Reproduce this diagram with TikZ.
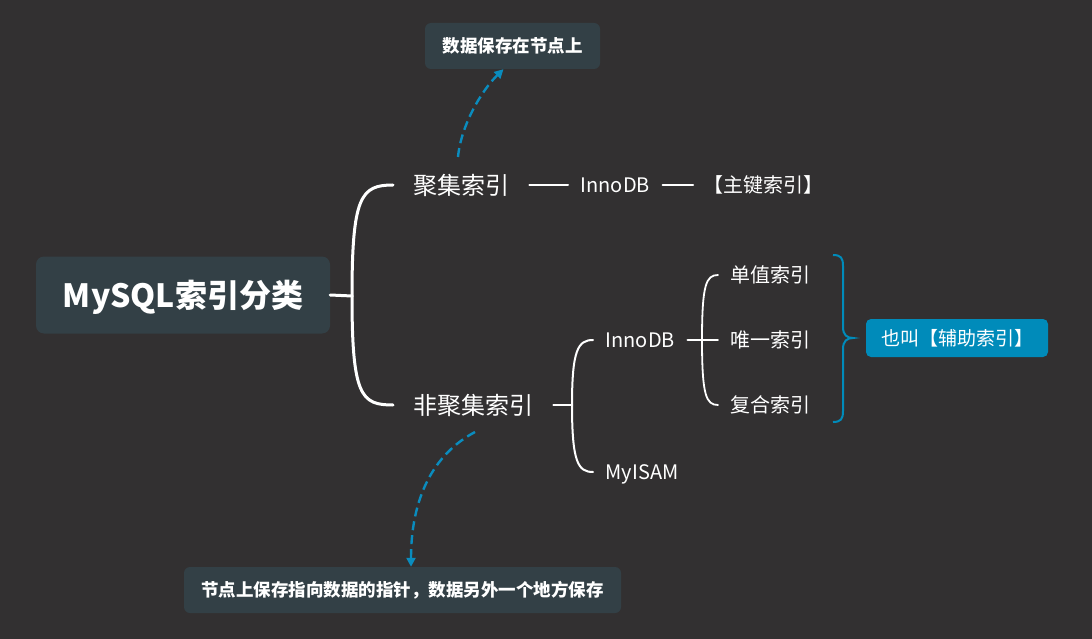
\documentclass[tikz,border=0pt]{standalone}
\usepackage{fontspec}
\setmainfont{Noto Sans CJK SC}
\usetikzlibrary{arrows.meta}
\definecolor{bgc}{RGB}{50,48,49}
\definecolor{boxc}{RGB}{51,64,70}
\definecolor{bluec}{RGB}{0,139,186}
\definecolor{arrc}{RGB}{10,140,190}
\tikzset{
  txt/.style={text=white, inner ysep=0pt, anchor=west},
  lvone/.style={txt, inner xsep=20pt, text height=21.1pt, text depth=2.9pt, font=\fontsize{24}{24}\selectfont},
  lvtwo/.style={txt, inner xsep=12.5pt, text height=17.6pt, text depth=2.4pt, font=\fontsize{20}{20}\selectfont},
  rootbox/.style={fill=boxc, rounded corners=8pt, text=white, minimum width=294pt, minimum height=77pt, inner sep=0pt, text height=28.2pt, text depth=3.8pt, font=\bfseries\fontsize{32}{32}\selectfont},
  notebox/.style={fill=boxc, rounded corners=6pt, text=white, minimum height=46pt, inner sep=0pt, text height=15.4pt, text depth=2.1pt, font=\bfseries\fontsize{17.5}{17.5}\selectfont},
  bluebox/.style={fill=bluec, rounded corners=5pt, text=white, minimum width=182pt, minimum height=38pt, inner sep=0pt, text height=16.7pt, text depth=2.3pt, font=\fontsize{19}{19}\selectfont},
  conn/.style={draw=white, line cap=round},
  dasharrow/.style={draw=arrc, line width=2.4pt, dash pattern=on 9pt off 5pt, -{Triangle[width=9pt,length=9pt]}},
}
\begin{document}
\begin{tikzpicture}[x=1pt,y=-1pt]
\fill[bgc] (0,0) rectangle (1092,639);
\useasboundingbox (0,0) rectangle (1092,639);

% nodes
\node[rootbox] (root) at (183,295) {MySQL索引分类};
\node[lvone] (jj) at (393,185) {聚集索引};
\node[lvone] (fjj) at (393,405) {非聚集索引};
\node[lvtwo] (inno1) at (568,185) {InnoDB};
\node[lvtwo, inner xsep=10pt] (zj) at (693,185) {【主键索引】};
\node[lvtwo] (inno2) at (593,340) {InnoDB};
\node[lvtwo] (myisam) at (593,472) {MyISAM};
\node[lvtwo] (dz) at (718,275) {单值索引};
\node[lvtwo] (wy) at (718,340) {唯一索引};
\node[lvtwo] (fh) at (718,405) {复合索引};
\node[bluebox] (fz) at (957,338) {也叫【辅助索引】};
\node[notebox, minimum width=175pt] (n1) at (512.5,46) {数据保存在节点上};
\node[notebox, minimum width=437pt] (n2) at (402.5,590) {节点上保存指向数据的指针，数据另外一个地方保存};

\coordinate (b1) at (352,296);
\coordinate (b2) at (572,405);
\coordinate (b3) at (702,340);
\coordinate (a1s) at (458,157);
\coordinate (a2s) at (475,432);
\coordinate (br1) at (833,255);
\coordinate (br2) at (853,338);
\coordinate (br3) at (833,422);

% main bracket
\draw[conn, line width=3pt] (root.east) -- (b1);
\draw[conn, line width=3pt] (b1) .. controls +(0,-100) and +(-32,0) .. (jj.west);
\draw[conn, line width=3pt] (b1) .. controls +(0,100) and +(-32,0) .. (fjj.west);

% cluster row
\draw[conn, line width=2pt] (jj.east) -- (inno1.west);
\draw[conn, line width=2pt] (inno1.east) -- (zj.west);

% second bracket
\draw[conn, line width=2pt] (fjj.east) -- (b2);
\draw[conn, line width=2pt] (b2) .. controls +(0,-55) and +(-15,0) .. (inno2.west);
\draw[conn, line width=2pt] (b2) .. controls +(0,57) and +(-15,0) .. (myisam.west);

% third bracket
\draw[conn, line width=2.5pt] (inno2.east) -- (b3);
\draw[conn, line width=1.8pt] (b3) -- (wy.west);
\draw[conn, line width=1.8pt] (b3) .. controls +(0,-55) and +(-12,0) .. (dz.west);
\draw[conn, line width=1.8pt] (b3) .. controls +(0,55) and +(-12,0) .. (fh.west);

% blue brace
\draw[draw=bluec, line width=2pt] (br1) .. controls +(8,0) and +(0,-8) .. (843,266) -- (843,327)
  .. controls +(0,8) and +(-6,0) .. (br2)
  .. controls +(-6,0) and +(0,-8) .. (843,349) -- (843,411)
  .. controls +(0,8) and +(8,0) .. (br3);

% dashed arrows
\draw[dasharrow] (a1s) .. controls (461,125) and (482,90) .. ([xshift=-9pt]n1.south);
\draw[dasharrow] (a2s) .. controls (432,455) and (411,500) .. ([xshift=8.5pt]n2.north);
\end{tikzpicture}
\end{document}
